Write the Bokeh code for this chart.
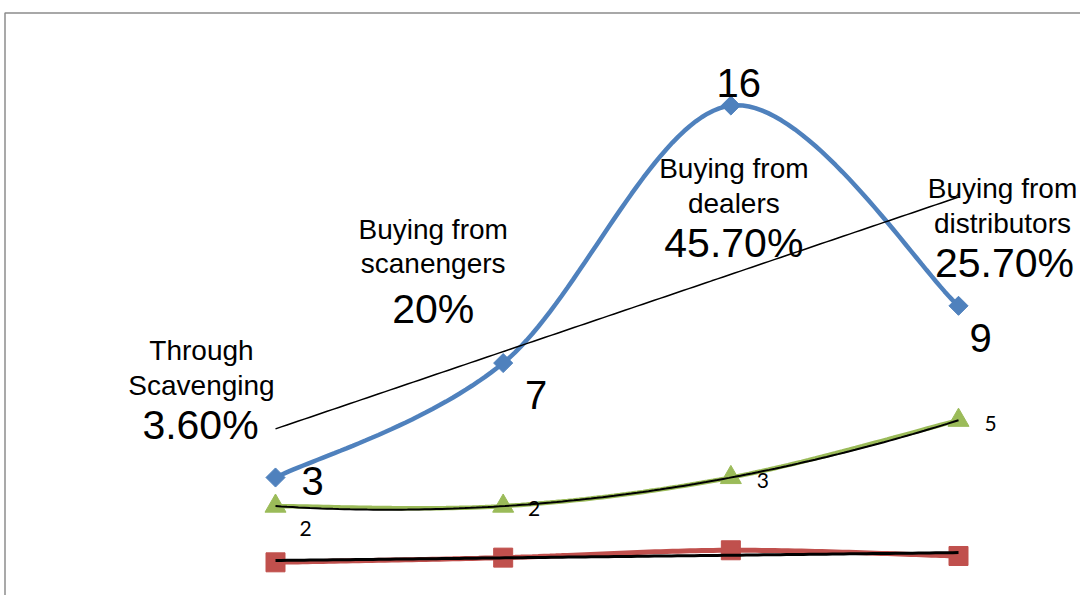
import numpy as np
from bokeh.plotting import figure
from bokeh.models import ColumnDataSource, BoxAnnotation, Range1d
from bokeh.core.properties import value
from bokeh.embed import file_html
from bokeh.resources import INLINE

# ---------------- data ----------------
categories = ["Through\nScavenging", "Buying from\nscanengers",
              "Buying from\ndealers", "Buying from\ndistributors"]
share_labels = ["3.60%", "20%", "45.70%", "25.70%"]
x_pos = [1, 2, 3, 4]
blue_counts = [3, 7, 16, 9]
green_counts = [2, 2, 3, 5]
red_share = [0.036, 0.2, 0.457, 0.257]

# ---------------- layout constants ----------------
W, H = 1080, 595
X0, X1 = -0.2079, 4.5358
Y0, Y1 = -1.1235, 19.67
ppx = W / (X1 - X0)
ppy = H / (Y1 - Y0)

BLUE, GREEN, RED = "#4F81BD", "#9BBB59", "#C0504D"


def smooth(xs, ys, n=40):
    P = np.column_stack([xs, ys]).astype(float)
    m = len(P)
    out = [P[0]]
    t = np.linspace(0, 1, n)[1:, None]
    for i in range(m - 1):
        p0 = P[i - 1] if i > 0 else P[i]
        p1, p2 = P[i], P[i + 1]
        p3 = P[i + 2] if i + 2 < m else P[i + 1]
        c1 = p1 + (p2 - p0) / 6.0
        c2 = p2 - (p3 - p1) / 6.0
        seg = ((1 - t) ** 3) * p1 + 3 * ((1 - t) ** 2) * t * c1 + 3 * (1 - t) * t ** 2 * c2 + t ** 3 * p2
        out.extend(seg)
    out = np.array(out)
    return out[:, 0], out[:, 1]


p = figure(width=W, height=H, output_backend="svg", toolbar_location=None,
           x_range=Range1d(X0, X1), y_range=Range1d(Y0, Y1),
           x_axis_location=None, y_axis_location=None, min_border=0,
           background_fill_color="white", border_fill_color="white")
p.outline_line_color = None
p.xgrid.visible = False
p.ygrid.visible = False

# chart frame (grey border, running off right/bottom)
p.add_layout(BoxAnnotation(left=X0 + 4.5 / ppx, top=Y1 - 12.5 / ppy, right=X1 + 2, bottom=Y0 - 2,
                           fill_alpha=0, line_color="#8c8c8c", line_alpha=1, line_width=1.5,
                           level="underlay"))

# smooth series lines
for ys, col, lw in ((blue_counts, BLUE, 4.5), (red_share, RED, 5), (green_counts, GREEN, 4.5)):
    sx, sy = smooth(x_pos, ys)
    p.line(sx, sy, line_color=col, line_width=lw)

# markers
p.scatter(x_pos, blue_counts, marker="square", size=13.5, angle=np.pi / 4,
          fill_color=BLUE, line_color=BLUE)
p.scatter(x_pos, red_share, marker="square", size=19, fill_color=RED, line_color=RED)
p.scatter(x_pos, green_counts, marker="triangle", size=21, fill_color=GREEN, line_color=GREEN)

# trend lines
tx = np.linspace(1, 4, 120)
p.line(tx, np.polyval(np.polyfit(x_pos, blue_counts, 1), tx), line_color="black", line_width=1.5)
p.line(tx, np.polyval(np.polyfit(x_pos, green_counts, 2), tx), line_color="black", line_width=2)
p.line(tx, np.polyval(np.polyfit(x_pos, red_share, 1), tx), line_color="black", line_width=3)

# blue data labels
p.text(x=x_pos, y=blue_counts, text=[str(v) for v in blue_counts],
       x_offset=[37, 33, 8, 22], y_offset=[3, 32, -23, 32],
       text_align="center", text_baseline="middle",
       text_font=value("Liberation Sans"), text_font_size="40px", text_color="black")

# green data labels
p.text(x=x_pos, y=green_counts, text=[str(v) for v in green_counts],
       x_offset=[30, 31, 32, 32], y_offset=[22, 2, 3, 3],
       text_align="center", text_baseline="middle",
       text_font=value("Lato"), text_font_size="21px", text_color="black")

# red series labels: category name + share
p.text(x=x_pos, y=red_share, text=categories,
       x_offset=[-74, -70, 3, 44], y_offset=[-194, -311, -364, -350],
       text_align="center", text_baseline="middle", text_line_height=1.12,
       text_font=value("Liberation Sans"), text_font_size="28px", text_color="black")
p.text(x=x_pos, y=red_share, text=share_labels,
       x_offset=[-75, -70, 3, 46], y_offset=[-137, -249, -307, -293],
       text_align="center", text_baseline="middle",
       text_font=value("Liberation Sans"), text_font_size="41px", text_color="black")

open("out.html", "w").write(file_html(p, INLINE))
